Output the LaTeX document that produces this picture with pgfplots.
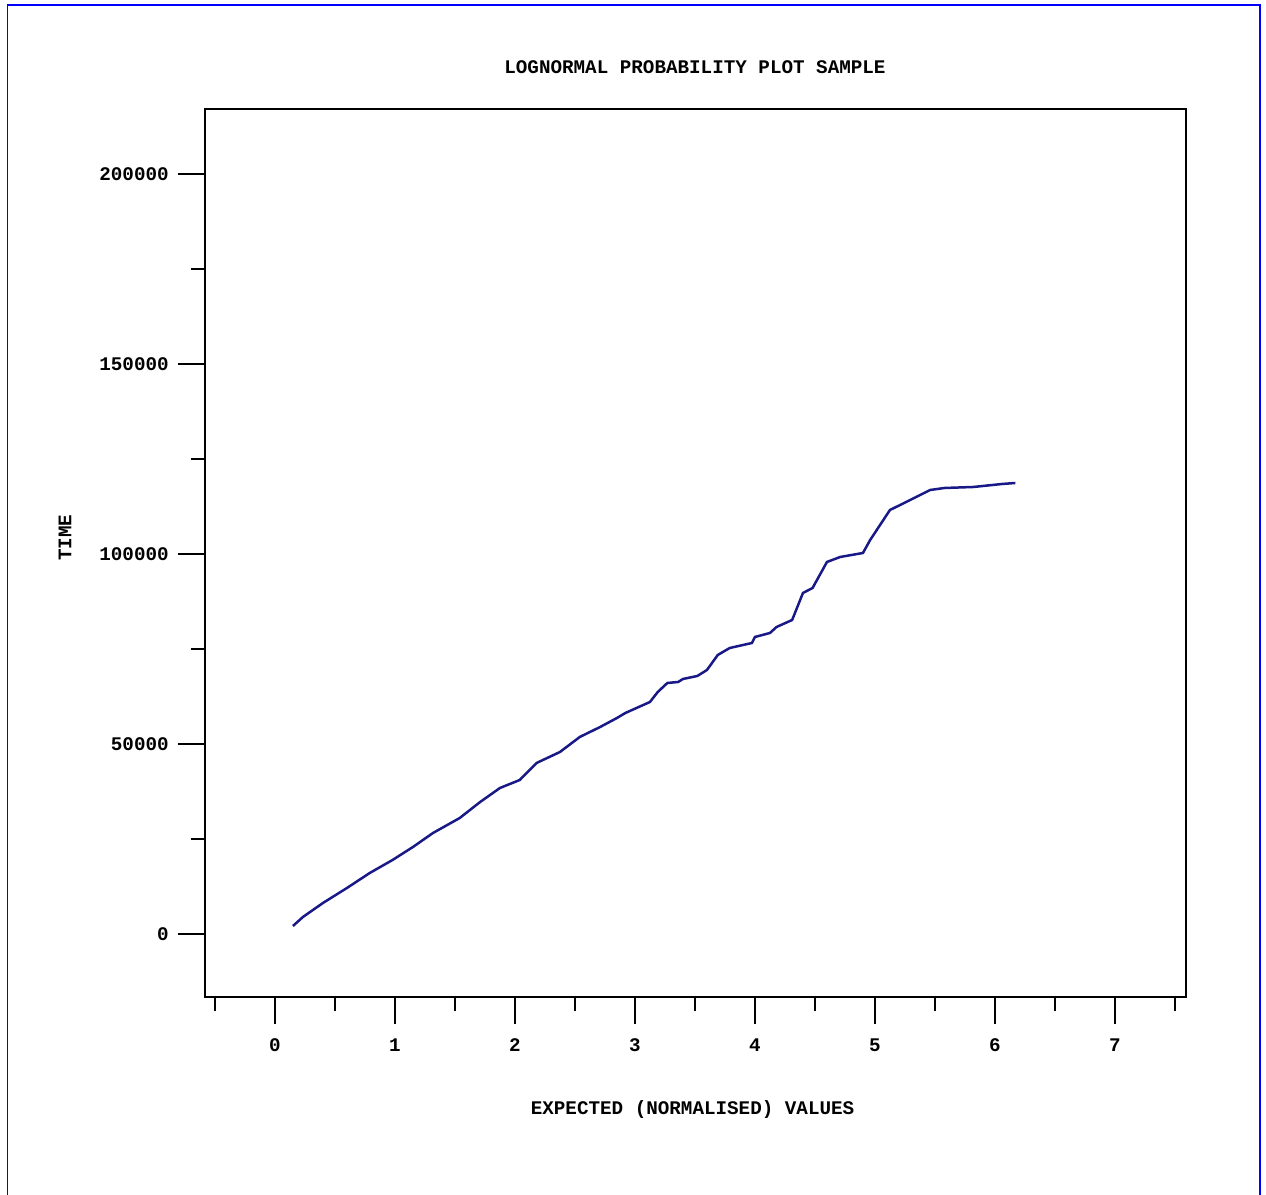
\documentclass[border=0pt]{standalone}
\usepackage{fontspec}
\setmainfont{Liberation Mono}
\usepackage{pgfplots}
\pgfplotsset{compat=1.18}
\definecolor{curve}{RGB}{24,24,135}
\begin{document}
\begin{tikzpicture}
\useasboundingbox (0,0) rectangle (506.4pt,478pt);
\draw[blue, line width=0.5pt] (3pt,-5pt) rectangle (504pt,476pt);
\begin{axis}[
  at={(82pt,79.2pt)}, anchor=south west,
  scale only axis, width=392.4pt, height=355.2pt,
  xmin=-0.583, xmax=7.592, ymin=-16579, ymax=217105,
  axis line style={line width=0.8pt},
  every tick/.style={black, line width=0.8pt},
  tick align=outside,
  xtick={0,1,...,7},
  xticklabels={0,1,2,3,4,5,6,7},
  minor xtick={-0.5,0.5,1.5,2.5,3.5,4.5,5.5,6.5,7.5},
  ytick={0,50000,100000,150000,200000},
  yticklabels={0,50000,100000,150000,200000},
  minor ytick={25000,75000,125000,175000},
  major tick length=10.8pt, minor tick length=5.8pt,
  xtick pos=bottom, ytick pos=left,
  scaled y ticks=false,
  ticklabel style={font=\fontsize{7.7}{9}\selectfont\bfseries},
  xticklabel style={yshift=-2.4pt},
  yticklabel style={xshift=-0.2pt},
  title={LOGNORMAL PROBABILITY PLOT SAMPLE},
  title style={at={(axis description cs:0.4995,1.030)}, anchor=center, font=\fontsize{7.7}{9}\selectfont\bfseries},
  xlabel={EXPECTED (NORMALISED) VALUES},
  xlabel style={at={(axis description cs:0.497,-0.127)}, anchor=center, font=\fontsize{7.7}{9}\selectfont\bfseries},
  ylabel={TIME},
  ylabel style={at={(axis description cs:-0.1427,0.517)}, anchor=center, font=\fontsize{7.7}{9}\selectfont\bfseries},
]
\addplot[curve, line width=1pt] coordinates {
(0.15,2105) (0.233,4474) (0.40,8158) (0.60,12105) (0.79,16053) (0.98,19474)
(1.15,22895) (1.317,26579) (1.54,30526) (1.71,34737) (1.875,38421) (2.04,40526)
(2.18,45000) (2.375,47895) (2.54,51842) (2.71,54474) (2.85,56842) (2.92,58158)
(3.125,61053) (3.19,63684) (3.27,66053) (3.36,66316) (3.40,67105) (3.52,67895)
(3.60,69474) (3.69,73421) (3.79,75263) (3.975,76579) (4.0,78158) (4.125,79211)
(4.18,80789) (4.31,82632) (4.40,89737) (4.48,91053) (4.60,97895) (4.71,99211)
(4.90,100263) (4.96,103684) (5.125,111579) (5.21,112895) (5.46,116842)
(5.58,117368) (5.82,117632) (6.06,118421) (6.17,118684)
};
\end{axis}
\end{tikzpicture}
\end{document}
